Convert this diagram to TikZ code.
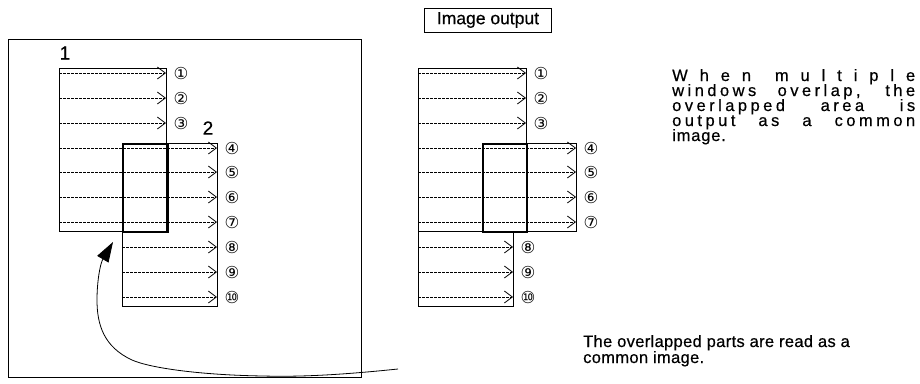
\documentclass[tikz,border=0pt]{standalone}
\usepackage{fontspec}
\setmainfont{Liberation Sans}[FakeBold=0.5]
\newfontfamily\circfont{DejaVu Sans}
\usetikzlibrary{arrows.meta}
\begin{document}
\begin{tikzpicture}[x=1pt,y=-1pt,
  frame/.style={draw,line width=0.8pt},
  overlapbox/.style={draw,line width=2.4pt},
  rowarrow/.style={line width=0.75pt,dash pattern=on 3pt off 1pt,
    -{Straight Barb[length=8pt,width=12pt,line width=0.8pt]}},
  num/.style={font=\circfont\fontsize{16.5}{17}\selectfont,inner sep=0pt},
  winlabel/.style={font=\fontsize{19}{19}\selectfont,inner sep=0pt},
  txt/.style={font=\fontsize{16.5}{16.5}\selectfont,inner sep=0pt,anchor=base west},
  btxt/.style={font=\fontsize{16.5}{16.5}\selectfont,inner sep=0pt,anchor=base west},
]
\useasboundingbox (0,0) rectangle (920,383);
% ---------- left panel ----------
\node[frame,minimum width=353pt,minimum height=338pt,inner sep=0pt,anchor=north west] (outer) at (8,39) {};
\node[frame,minimum width=107pt,minimum height=163pt,inner sep=0pt,anchor=north west] (w1) at (59,68) {};
\node[frame,minimum width=95pt,minimum height=163pt,inner sep=0pt,anchor=north west] (w2) at (122,143) {};
\node[overlapbox,minimum width=45pt,minimum height=88pt,inner sep=0pt,anchor=north west] (ov) at (122,143) {};
\node[winlabel] (lab1) at (65,53) {1};
\node[winlabel] (lab2) at (208,128) {2};
\foreach \i/\s/\e/\y/\n in {1/59/166/73/①,2/59/166/98/②,3/59/166/123/③,
  4/59/217/148/④,5/59/217/172/⑤,6/59/217/197/⑥,7/59/217/222/⑦,
  8/122/217/247/⑧,9/122/217/272/⑨,10/122/217/297/⑩}{
  \coordinate (ls\i) at (\s,\y);
  \coordinate (le\i) at (\e,\y);
  \draw[rowarrow] (ls\i) -- (le\i);
  \node[num] (ln\i) at (\e+15,\y) {\n};
}
% ---------- right panel ----------
\node[frame,minimum width=127pt,minimum height=24pt,inner sep=0pt,font=\fontsize{17.5}{17.5}\selectfont] (title) at (488,20) {Image output};
\node[frame,minimum width=108pt,minimum height=163pt,inner sep=0pt,anchor=north west] (r1) at (418,68) {};
\node[frame,minimum width=94pt,minimum height=88pt,inner sep=0pt,anchor=north west] (r2) at (482,143) {};
\node[frame,minimum width=95pt,minimum height=75pt,inner sep=0pt,anchor=north west] (r3) at (418,231) {};
\node[overlapbox,minimum width=44pt,minimum height=88pt,inner sep=0pt,anchor=north west] (rov) at (482,143) {};
\foreach \i/\s/\e/\y/\n in {1/418/526/73/①,2/418/526/98/②,3/418/526/123/③,
  4/418/576/148/④,5/418/576/172/⑤,6/418/576/197/⑥,7/418/576/222/⑦,
  8/418/513/247/⑧,9/418/513/272/⑨,10/418/513/297/⑩}{
  \coordinate (rs\i) at (\s,\y);
  \coordinate (re\i) at (\e,\y);
  \draw[rowarrow] (rs\i) -- (re\i);
  \node[num] (rn\i) at (\e+15,\y) {\n};
}
% ---------- texts ----------
\node[txt] (t1) at (672,81) {\makebox[243pt][s]{W\hfill h\hfill e\hfill n\hfill\hfill m\hfill u\hfill l\hfill t\hfill i\hfill p\hfill l\hfill e}};
\node[txt] (t2) at (672,96) {\addfontfeatures{LetterSpace=21}\makebox[243pt][s]{windows overlap, the}};
\node[txt] (t3) at (672,111) {\addfontfeatures{LetterSpace=21}\makebox[243pt][s]{overlapped area is}};
\node[txt] (t4) at (672,126) {\addfontfeatures{LetterSpace=21}\makebox[243pt][s]{output as a common}};
\node[txt] (t5) at (672,141) {\addfontfeatures{LetterSpace=5}image.};
\node[btxt] (b1) at (583,347) {\addfontfeatures{LetterSpace=2}The overlapped parts are read as a};
\node[btxt] (b2) at (583,363) {\addfontfeatures{LetterSpace=2}common image.};
% ---------- curved arrow ----------
\coordinate (cstart) at (398,369);
\coordinate (ctip) at (113,242);
\draw[line width=0.8pt,-{Triangle[length=20pt,width=13pt]}] (cstart)
  .. controls (340,375) and (300,377) .. (263,376)
  .. controls (200,375) and (150,368) .. (132,360)
  .. controls (104,347) and (97,325) .. (97,300)
  .. controls (97,282) and (100,264) .. (ctip);
\end{tikzpicture}
\end{document}
